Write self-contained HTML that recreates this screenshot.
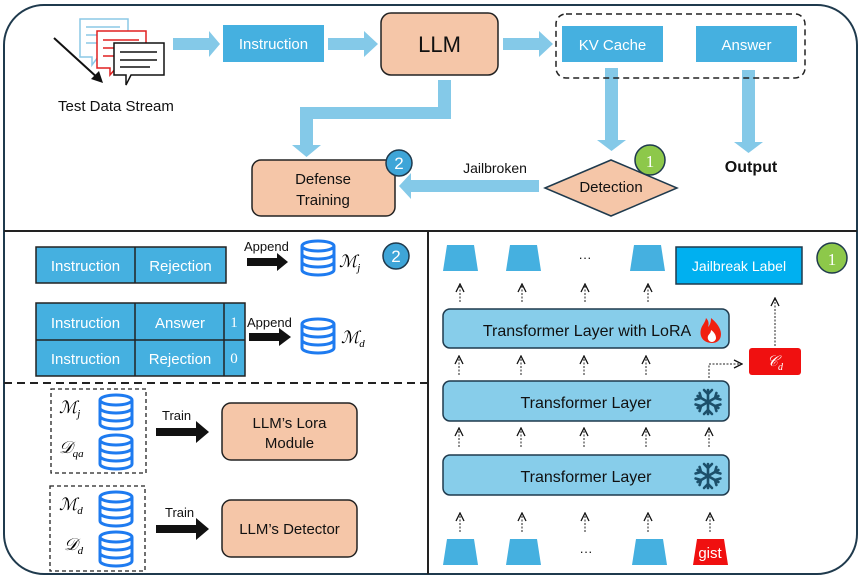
<!DOCTYPE html>
<html><head><meta charset="utf-8"><style>
html,body{margin:0;padding:0;background:#fff;}
svg{display:block;font-family:"Liberation Sans","DejaVu Sans",sans-serif;}
.w{fill:#fff;font-size:15px;}
.k{fill:#111;}
.ms{font-family:"Liberation Serif",serif;font-style:italic;}
</style></head><body>
<svg width="864" height="579" viewBox="0 0 864 579" xmlns="http://www.w3.org/2000/svg">
<defs>
<marker id="ah" viewBox="0 0 10 10" refX="9" refY="5" markerWidth="10" markerHeight="10" markerUnits="userSpaceOnUse" orient="auto"><path d="M1,1 L9,5 L1,9" fill="none" stroke="#111" stroke-width="1.3"/></marker>
<g id="db"><ellipse cx="18" cy="6" rx="16" ry="5" fill="#fff" stroke="#1e7bf0" stroke-width="3"/><path d="M2,6 V30 A16,5 0 0 0 34,30 V6" fill="none" stroke="#1e7bf0" stroke-width="3"/><path d="M2,14 A16,5 0 0 0 34,14 M2,22 A16,5 0 0 0 34,22" fill="none" stroke="#1e7bf0" stroke-width="3"/></g>
<g id="snow" stroke="#1c4f6a" stroke-width="2.6" fill="none" stroke-linecap="round"><path d="M0,-12V12M-10.4,-6L10.4,6M-10.4,6L10.4,-6"/><path d="M-4,-12L0,-8L4,-12M-4,12L0,8L4,12M-12.4,-2.5L-7,-4L-8.4,-9M12.4,2.5L7,4L8.4,9M-12.4,2.5L-7,4L-8.4,9M12.4,-2.5L7,-4L8.4,-9"/></g>
</defs>
<rect x="4" y="5" width="853" height="569" rx="40" fill="none" stroke="#1f3a4d" stroke-width="2"/>
<line x1="4" y1="231" x2="857" y2="231" stroke="#222" stroke-width="2"/>
<line x1="428" y1="231" x2="428" y2="574" stroke="#222" stroke-width="2"/>
<line x1="4" y1="383" x2="428" y2="383" stroke="#222" stroke-width="2" stroke-dasharray="8,5"/>

<path d="M80,19h48v38h-30l-6,8v-8h-12z" fill="#fff" stroke="#8cc8e6" stroke-width="1.5"/>
<path d="M86,27h34M86,35h34M86,43h30" stroke="#8cc8e6" stroke-width="1.5"/>
<path d="M97,31h49v37h-30l-6,7v-7h-13z" fill="#fff" stroke="#e02020" stroke-width="1.5"/>
<path d="M103,40h36M103,48h36M103,56h32" stroke="#e02020" stroke-width="1.5"/>
<path d="M114,43h50v32h-33l-5,10v-10h-12z" fill="#fff" stroke="#111" stroke-width="1.5"/>
<path d="M120,52h37M120,60h37M120,67h30" stroke="#111" stroke-width="1.5"/>
<line x1="54" y1="38" x2="100" y2="80" stroke="#111" stroke-width="2"/>
<path d="M103,83L91,79L99,71Z" fill="#111"/>
<text x="58" y="111" font-size="15" class="k">Test Data Stream</text>

<g fill="#84c9e8">
<path d="M173,38h36v-7l11,13l-11,13v-7h-36z"/>
<path d="M328,38h36v-7l14,13l-14,13v-7h-36z"/>
<path d="M503,38h36v-7l14,13l-14,13v-7h-36z"/>
<path d="M605,68h13v72h8l-14.5,11l-14.5-11h8z"/>
<path d="M742,70h13v72h8l-14.5,11l-14.5-11h8z"/>
<path d="M438,80h13v39h-138v26h8l-14.5,12l-14.5-12h8v-38h138z"/>
<path d="M539,180v12h-128v7l-12-13l12-13v7z"/>
</g>
<rect x="223" y="25" width="101" height="37" fill="#45b0e0"/>
<text x="273.5" y="49" text-anchor="middle" class="w">Instruction</text>
<rect x="381" y="13" width="117" height="62" rx="10" fill="#f5c6a8" stroke="#222" stroke-width="1.5"/>
<text x="439.5" y="52" text-anchor="middle" font-size="22" class="k">LLM</text>
<rect x="556" y="14" width="249" height="64" rx="10" fill="none" stroke="#222" stroke-width="1.5" stroke-dasharray="6,4"/>
<rect x="562" y="26" width="101" height="36" fill="#45b0e0"/>
<text x="612.5" y="50" text-anchor="middle" class="w">KV Cache</text>
<rect x="696" y="26" width="101" height="36" fill="#45b0e0"/>
<text x="746.5" y="50" text-anchor="middle" class="w">Answer</text>
<text x="751" y="172" text-anchor="middle" font-size="16" font-weight="bold" class="k">Output</text>
<rect x="252" y="160" width="143" height="56" rx="9" fill="#f5c6a8" stroke="#222" stroke-width="1.5"/>
<text x="323" y="184" text-anchor="middle" font-size="15" class="k">Defense</text>
<text x="323" y="205" text-anchor="middle" font-size="15" class="k">Training</text>
<circle cx="399" cy="163" r="13" fill="#3ea5d8" stroke="#1f3a4d" stroke-width="1.5"/>
<text x="399" y="169" text-anchor="middle" font-size="17" fill="#fff">2</text>
<path d="M545,188L611,160L677,188L611,216Z" fill="#f5c6a8" stroke="#1f3a4d" stroke-width="1.5"/>
<text x="611" y="192" text-anchor="middle" font-size="15" class="k">Detection</text>
<circle cx="650" cy="160" r="15" fill="#8dc84a" stroke="#1f3a4d" stroke-width="1.5"/>
<text x="650" y="167" text-anchor="middle" font-size="17" fill="#fff" font-family="Liberation Serif,serif">1</text>
<text x="495" y="173" text-anchor="middle" font-size="14" class="k">Jailbroken</text>

<g stroke="#222" stroke-width="1.5" fill="#45b0e0">
<rect x="36" y="247" width="190" height="36"/><line x1="135" y1="247" x2="135" y2="283"/>
<rect x="36" y="303" width="209" height="73"/><line x1="36" y1="340" x2="245" y2="340"/>
<line x1="135" y1="303" x2="135" y2="376"/><line x1="224" y1="303" x2="224" y2="376"/>
</g>
<text x="85.5" y="271" text-anchor="middle" class="w">Instruction</text>
<text x="180.5" y="271" text-anchor="middle" class="w">Rejection</text>
<text x="85.5" y="328" text-anchor="middle" class="w">Instruction</text>
<text x="180" y="328" text-anchor="middle" class="w">Answer</text>
<text x="234" y="327" text-anchor="middle" class="w" font-family="Liberation Serif,serif" font-size="13">1</text>
<text x="85.5" y="364" text-anchor="middle" class="w">Instruction</text>
<text x="180" y="364" text-anchor="middle" class="w">Rejection</text>
<text x="234" y="363" text-anchor="middle" class="w" font-family="Liberation Serif,serif" font-size="13">0</text>
<g fill="#111">
<path d="M247,258h30v-5l11,9l-11,9v-5h-30z"/>
<path d="M249,333h30v-5l12,9l-12,9v-5h-30z"/>
<path d="M156,428h40v-7l13,11l-13,11v-7h-40z"/>
<path d="M156,525h40v-7l13,11l-13,11v-7h-40z"/>
</g>
<text x="244" y="251" font-size="13" class="k">Append</text>
<text x="247" y="327" font-size="13" class="k">Append</text>
<text x="162" y="420" font-size="13" class="k">Train</text>
<text x="165" y="517" font-size="13" class="k">Train</text>
<use href="#db" x="300" y="240"/>
<use href="#db" x="300" y="318"/>
<text x="339" y="267" font-size="17" class="ms">ℳ<tspan font-size="11" dy="4">j</tspan></text>
<text x="341" y="343" font-size="17" class="ms">ℳ<tspan font-size="11" dy="4">d</tspan></text>
<circle cx="396" cy="256" r="13" fill="#3ea5d8" stroke="#1f3a4d" stroke-width="1.5"/>
<text x="396" y="262" text-anchor="middle" font-size="17" fill="#fff">2</text>
<rect x="51" y="389" width="95" height="84" fill="none" stroke="#222" stroke-width="1.3" stroke-dasharray="4,3"/>
<rect x="50" y="486" width="95" height="85" fill="none" stroke="#222" stroke-width="1.3" stroke-dasharray="4,3"/>
<use href="#db" x="98" y="394"/><use href="#db" x="98" y="434"/>
<use href="#db" x="98" y="491"/><use href="#db" x="98" y="531"/>
<text x="59" y="413" font-size="17" class="ms">ℳ<tspan font-size="11" dy="4">j</tspan></text>
<text x="59" y="453" font-size="17" class="ms">𝒟<tspan font-size="11" dy="4">qa</tspan></text>
<text x="59" y="510" font-size="17" class="ms">ℳ<tspan font-size="11" dy="4">d</tspan></text>
<text x="64" y="550" font-size="17" class="ms">𝒟<tspan font-size="11" dy="4">d</tspan></text>
<rect x="222" y="403" width="135" height="57" rx="9" fill="#f5c6a8" stroke="#222" stroke-width="1.5"/>
<text x="289.5" y="428" text-anchor="middle" font-size="15" class="k">LLM’s Lora</text>
<text x="289.5" y="448" text-anchor="middle" font-size="15" class="k">Module</text>
<rect x="222" y="500" width="135" height="57" rx="9" fill="#f5c6a8" stroke="#222" stroke-width="1.5"/>
<text x="289.5" y="534" text-anchor="middle" font-size="15" class="k">LLM’s Detector</text>

<g fill="#45b0e0">
<path d="M447,245h27l4,26h-35z"/><path d="M510,245h27l4,26h-35z"/><path d="M634,245h27l4,26h-35z"/>
<path d="M447,539h27l4,26h-35z"/><path d="M510,539h27l4,26h-35z"/><path d="M636,539h27l4,26h-35z"/>
</g>
<path d="M697,539h27l4,26h-35z" fill="#f01010"/>
<text x="710" y="558" text-anchor="middle" font-size="15" fill="#fff">gist</text>
<text x="585" y="262" text-anchor="middle" font-size="13" class="k">···</text>
<text x="586" y="556" text-anchor="middle" font-size="13" class="k">···</text>
<rect x="676" y="247" width="126" height="37" fill="#00b0f0" stroke="#1f3a4d" stroke-width="1.5"/>
<text x="739" y="271" text-anchor="middle" font-size="14" fill="#fff">Jailbreak Label</text>
<circle cx="832" cy="258" r="15" fill="#8dc84a" stroke="#1f3a4d" stroke-width="1.5"/>
<text x="832" y="265" text-anchor="middle" font-size="17" fill="#fff" font-family="Liberation Serif,serif">1</text>
<g stroke="#222" stroke-width="1" stroke-dasharray="2,1.5" fill="none" marker-end="url(#ah)">
<line x1="460" y1="302" x2="460" y2="284"/><line x1="522" y1="302" x2="522" y2="284"/><line x1="585" y1="302" x2="585" y2="284"/><line x1="648" y1="302" x2="648" y2="284"/>
<line x1="459" y1="375" x2="459" y2="356"/><line x1="521" y1="375" x2="521" y2="356"/><line x1="584" y1="375" x2="584" y2="356"/><line x1="646" y1="375" x2="646" y2="356"/>
<line x1="459" y1="447" x2="459" y2="428"/><line x1="521" y1="447" x2="521" y2="428"/><line x1="584" y1="447" x2="584" y2="428"/><line x1="646" y1="447" x2="646" y2="428"/><line x1="709" y1="447" x2="709" y2="428"/>
<line x1="460" y1="532" x2="460" y2="513"/><line x1="522" y1="532" x2="522" y2="513"/><line x1="585" y1="532" x2="585" y2="513"/><line x1="648" y1="532" x2="648" y2="513"/><line x1="710" y1="532" x2="710" y2="513"/>
<path d="M709,378V364H742"/>
<line x1="775" y1="346" x2="775" y2="298"/>
</g>
<rect x="443" y="309" width="286" height="39" rx="7" fill="#87cdea" stroke="#1f3a4d" stroke-width="1.5"/>
<text x="587" y="336" text-anchor="middle" font-size="16" class="k">Transformer Layer with LoRA</text>
<path d="M712,343c-9,0-13-7-11-14c1-4,4-6,5-11c3,3,3,6,2,9c2-2,3-5,3-9c5,4,10,10,10,16c0,6-4,9-9,9z" fill="#f02010"/>
<path d="M712,342c-3,0-5-3-4-6c1-2,3-3,3-6c3,2,5,5,5,8c0,2-2,4-4,4z" fill="#fff"/>
<rect x="443" y="381" width="286" height="40" rx="7" fill="#87cdea" stroke="#1f3a4d" stroke-width="1.5"/>
<text x="586" y="408" text-anchor="middle" font-size="16" class="k">Transformer Layer</text>
<use href="#snow" x="708" y="402"/>
<rect x="443" y="455" width="286" height="40" rx="7" fill="#87cdea" stroke="#1f3a4d" stroke-width="1.5"/>
<text x="586" y="482" text-anchor="middle" font-size="16" class="k">Transformer Layer</text>
<use href="#snow" x="708" y="476"/>
<rect x="749" y="348" width="52" height="27" rx="3" fill="#f01010"/>
<text x="775" y="366" text-anchor="middle" font-size="15" fill="#fff" class="ms">𝒞<tspan font-size="10" dy="4">d</tspan></text>
</svg>
</body></html>
